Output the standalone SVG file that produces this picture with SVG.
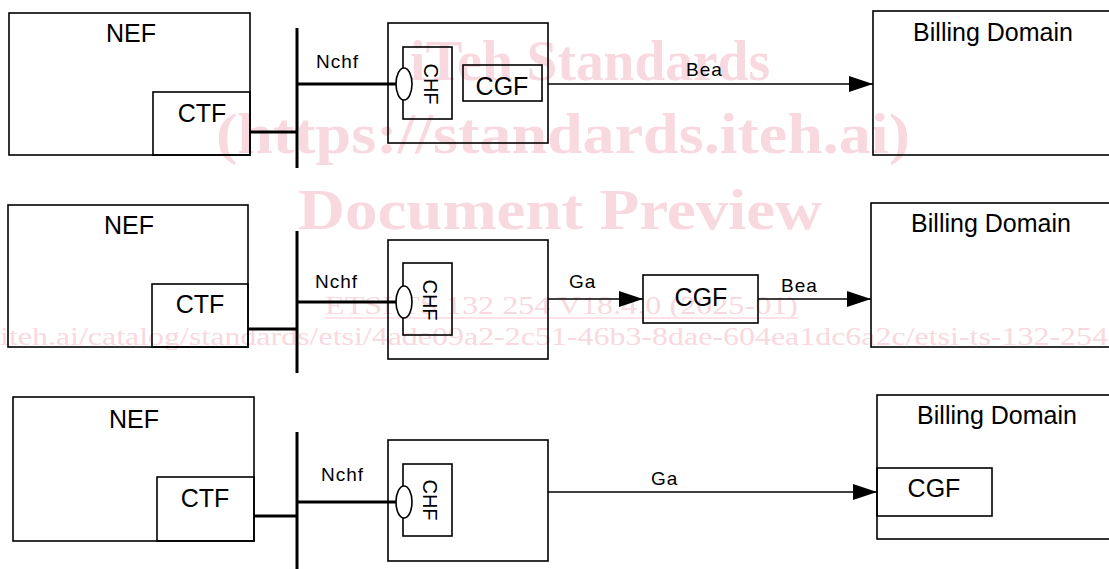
<svg xmlns="http://www.w3.org/2000/svg" width="1109" height="569" viewBox="0 0 1109 569">
<defs>
<marker id="arr" markerUnits="userSpaceOnUse" markerWidth="24" markerHeight="16" refX="24" refY="8" orient="auto"><path d="M0,0 L24,8 L0,16 z" fill="#000"/></marker>
<style>
.box{fill:none;stroke:#000;stroke-width:1.6}
.thick{stroke:#000;stroke-width:3;fill:none}
.conn{stroke:#000;stroke-width:1.6;fill:none}
.lbl{font-family:"Liberation Sans",Arial,sans-serif;font-size:25px;fill:#000;text-anchor:middle}
.chf{font-family:"Liberation Sans",Arial,sans-serif;font-size:20px;fill:#000;text-anchor:middle;dominant-baseline:central}
.if{font-family:"Liberation Sans",Arial,sans-serif;font-size:19px;fill:#000;letter-spacing:1px}
.ell{fill:#fff;stroke:#000;stroke-width:1.6}
.wm{font-family:"Liberation Serif","Times New Roman",serif;fill:#f8d9e0}
.wmb{font-weight:bold;font-size:56px}
.wms{font-size:26px}
</style>
</defs>
<g id="watermark">
<text class="wm wmb" x="410" y="80" textLength="360" lengthAdjust="spacingAndGlyphs">iTeh Standards</text>
<text class="wm wmb" x="216" y="153" textLength="694" lengthAdjust="spacingAndGlyphs">(https://standards.iteh.ai)</text>
<text class="wm wmb" x="298" y="229" textLength="524" lengthAdjust="spacingAndGlyphs">Document Preview</text>
<text class="wm wms" x="325" y="314" textLength="473" lengthAdjust="spacingAndGlyphs">ETSI TS 132 254 V18.4.0 (2025-01)</text>
<line x1="325" y1="318" x2="798" y2="318" stroke="#f8d9e0" stroke-width="1.5"/>
<text class="wm wms" x="0" y="345" textLength="1108" lengthAdjust="spacingAndGlyphs">iteh.ai/catalog/standards/etsi/4ade09a2-2c51-46b3-8dae-604ea1dc6a2c/etsi-ts-132-254</text>
</g>
<g id="connectors">
<line class="thick" x1="250" y1="132" x2="297" y2="132"/>
<line class="thick" x1="297" y1="28" x2="297" y2="168"/>
<line class="thick" x1="297" y1="84" x2="397" y2="84"/>
<line class="conn" x1="548" y1="84" x2="873" y2="84" marker-end="url(#arr)"/>
<line class="thick" x1="248" y1="329" x2="297" y2="329"/>
<line class="thick" x1="297" y1="231" x2="297" y2="373"/>
<line class="thick" x1="297" y1="302" x2="396" y2="302"/>
<line class="conn" x1="548" y1="299" x2="643" y2="299" marker-end="url(#arr)"/>
<line class="conn" x1="758" y1="299" x2="871" y2="299" marker-end="url(#arr)"/>
<line class="thick" x1="254" y1="516" x2="297" y2="516"/>
<line class="thick" x1="297" y1="432" x2="297" y2="569"/>
<line class="thick" x1="297" y1="502" x2="396" y2="502"/>
<line class="conn" x1="548" y1="492" x2="877" y2="492" marker-end="url(#arr)"/>
</g>
<g id="labels">
<text class="if" x="316" y="68">Nchf</text>
<text class="if" x="686" y="76">Bea</text>
<text class="if" x="315" y="288">Nchf</text>
<text class="if" x="569" y="288">Ga</text>
<text class="if" x="781" y="292">Bea</text>
<text class="if" x="321" y="481">Nchf</text>
<text class="if" x="651" y="485">Ga</text>
</g>
<g id="nef1"><rect class="box" x="9" y="13" width="241" height="142"/><text class="lbl" x="131" y="42">NEF</text></g>
<g id="ctf1"><rect class="box" x="153" y="92" width="97" height="63"/><text class="lbl" x="202" y="122">CTF</text></g>
<g id="chfbox1"><rect class="box" x="388" y="23" width="160" height="120"/></g>
<g id="chf1"><rect class="box" x="403" y="47" width="49" height="72"/><ellipse class="ell" cx="404" cy="84" rx="8" ry="16"/><text class="chf" transform="translate(431,84) rotate(90)">CHF</text></g>
<g id="cgf1"><rect class="box" x="463" y="65" width="79" height="36"/><text class="lbl" x="502" y="95">CGF</text></g>
<g id="bd1"><rect class="box" x="873" y="11" width="245" height="144"/><text class="lbl" x="993" y="41">Billing Domain</text></g>
<g id="nef2"><rect class="box" x="8" y="205" width="240" height="142"/><text class="lbl" x="129" y="234">NEF</text></g>
<g id="ctf2"><rect class="box" x="152" y="284" width="96" height="63"/><text class="lbl" x="200" y="313">CTF</text></g>
<g id="chfbox2"><rect class="box" x="388" y="240" width="160" height="119"/></g>
<g id="chf2"><rect class="box" x="403" y="263" width="49" height="72"/><ellipse class="ell" cx="404" cy="302" rx="8" ry="16"/><text class="chf" transform="translate(430,300) rotate(90)">CHF</text></g>
<g id="cgf2"><rect class="box" x="643" y="275" width="115" height="48"/><text class="lbl" x="701" y="306">CGF</text></g>
<g id="bd2"><rect class="box" x="871" y="203" width="245" height="144"/><text class="lbl" x="991" y="232">Billing Domain</text></g>
<g id="nef3"><rect class="box" x="13" y="397" width="241" height="144"/><text class="lbl" x="134" y="428">NEF</text></g>
<g id="ctf3"><rect class="box" x="157" y="477" width="97" height="64"/><text class="lbl" x="205" y="507">CTF</text></g>
<g id="chfbox3"><rect class="box" x="388" y="440" width="160" height="121"/></g>
<g id="chf3"><rect class="box" x="403" y="464" width="49" height="72"/><ellipse class="ell" cx="404" cy="502" rx="8" ry="16"/><text class="chf" transform="translate(430,500) rotate(90)">CHF</text></g>
<g id="bd3"><rect class="box" x="877" y="395" width="240" height="144"/><text class="lbl" x="997" y="424">Billing Domain</text></g>
<g id="cgf3"><rect class="box" x="877" y="468" width="115" height="48"/><text class="lbl" x="934" y="497">CGF</text></g>
</svg>
